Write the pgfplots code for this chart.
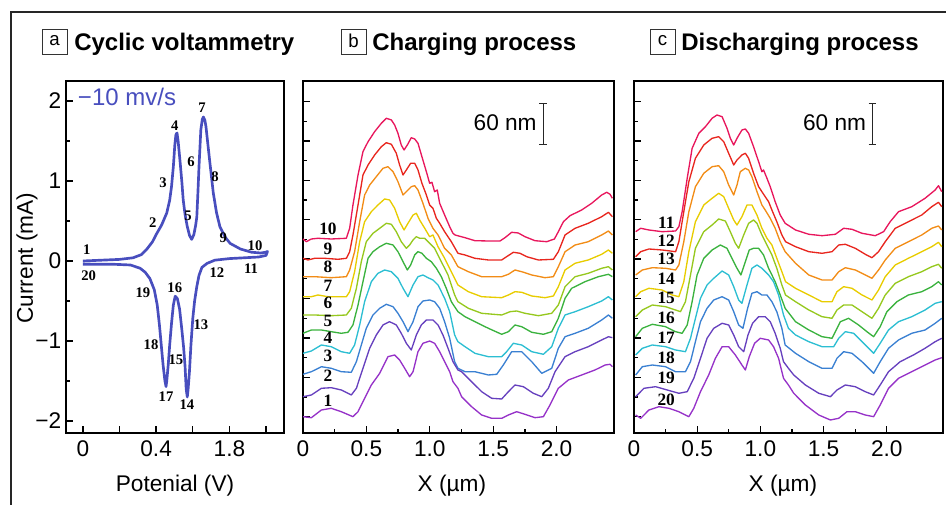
\documentclass[border=0pt]{standalone}
\usepackage{fontspec}
\setmainfont{Liberation Sans}
\newfontfamily\tnr{Liberation Serif}
\usepackage{pgfplots}
\pgfplotsset{compat=1.18}
\definecolor{c10}{RGB}{232,22,92}
\definecolor{c9}{RGB}{232,38,30}
\definecolor{c8}{RGB}{242,140,22}
\definecolor{c7}{RGB}{232,204,0}
\definecolor{c6}{RGB}{150,200,30}
\definecolor{c5}{RGB}{58,178,62}
\definecolor{c4}{RGB}{44,190,210}
\definecolor{c3}{RGB}{58,128,210}
\definecolor{c2}{RGB}{102,64,190}
\definecolor{c1}{RGB}{150,50,200}
\definecolor{cvblue}{RGB}{72,78,190}
\newcommand\lbl{\fontsize{17}{20}\selectfont}
\newcommand\numb{\tnr\bfseries\fontsize{13}{14}\selectfont}
\newcommand\numa{\tnr\bfseries\fontsize{11}{12}\selectfont}
\pgfplotsset{
  myax/.style={scale only axis, clip=false, anchor=south west,
    axis line style={line width=1.5pt},
    every tick/.style={black,line width=1pt},
    major tick length=5pt, minor tick length=2.7pt,
    tick align=inside, tick pos=left,
    tick label style={font=\lbl},
    label style={font=\lbl},
    xticklabel style={yshift=-2.5pt},
    height=264pt},
  prof/.style={line width=1pt, line join=round},
}
\begin{document}
\begin{tikzpicture}[x=0.75pt,y=0.75pt]
% outer frame
\draw[line width=0.8pt, black!85] (11,-5) -- (11,493) -- (960,493);
% titles
\draw[line width=0.7pt, black!80] (42,451) rectangle (67,476);
\node[inner sep=0, font=\fontsize{14}{16}\selectfont] at (54.5,464) {a};
\node[anchor=base west, inner sep=0, font=\fontsize{18}{20}\selectfont\bfseries] at (74,454) {Cyclic voltammetry};
\draw[line width=0.7pt, black!80] (341,451) rectangle (366,476);
\node[inner sep=0, font=\fontsize{14}{16}\selectfont] at (353.5,464) {b};
\node[anchor=base west, inner sep=0, font=\fontsize{18}{20}\selectfont\bfseries] at (372,454) {Charging process};
\draw[line width=0.7pt, black!80] (650,451) rectangle (675,476);
\node[inner sep=0, font=\fontsize{14}{16}\selectfont] at (662.5,464) {c};
\node[anchor=base west, inner sep=0, font=\fontsize{18}{20}\selectfont\bfseries] at (681,454) {Discharging process};

% ---------------- panel a
\begin{axis}[myax, at={(49.5pt,54pt)}, width=163.5pt,
  xmin=-0.46, xmax=5.49, ymin=-2.15, ymax=2.25,
  xtick={0,1,2,3,4,5}, xticklabels={0,,0.4,,1.8,},
  ytick={-2,-1,0,1,2}, yticklabels={−2,−1,0,1,2},
  minor y tick num=1,
  xlabel={Potenial (V)}, ylabel={Current (mA)},
  xlabel style={at={(axis description cs:0.5,-0.1506)},anchor=center},
  ylabel style={at={(axis description cs:-0.179,0.497)},anchor=center}]
\addplot[cvblue, line width=2pt, line join=round] coordinates {
(0,0) (0.5,0.01) (1.0,0.02) (1.37,0.04) (1.6,0.08) (1.75,0.15) (1.9,0.24) (2.0,0.33) (2.15,0.45) (2.29,0.6) (2.37,0.76) (2.42,0.93) (2.47,1.18) (2.51,1.45) (2.54,1.58) (2.57,1.6) (2.6,1.5) (2.65,1.26) (2.7,1.0) (2.74,0.76) (2.79,0.58) (2.85,0.43) (2.91,0.32) (2.97,0.27) (3.03,0.33) (3.08,0.45) (3.11,0.55) (3.14,0.85) (3.17,1.18) (3.22,1.64) (3.26,1.77) (3.29,1.8) (3.33,1.76) (3.36,1.68) (3.45,1.3) (3.56,0.85) (3.65,0.6) (3.74,0.43) (3.88,0.3) (4.02,0.22) (4.3,0.15) (4.6,0.11) (4.85,0.1) (5.0,0.11) (5.04,0.12)
(5.0,0.07) (4.8,0.05) (4.4,0.04) (4.0,0.03) (3.6,0.01) (3.39,-0.03) (3.25,-0.08) (3.17,-0.18) (3.11,-0.32) (3.05,-0.5) (3.0,-0.72) (2.95,-1.05) (2.91,-1.38) (2.87,-1.62) (2.85,-1.7) (2.82,-1.6) (2.79,-1.32) (2.75,-1.08) (2.7,-0.85) (2.64,-0.6) (2.58,-0.47) (2.52,-0.44) (2.47,-0.55) (2.42,-0.78) (2.37,-1.05) (2.33,-1.3) (2.29,-1.5) (2.27,-1.57) (2.24,-1.5) (2.19,-1.3) (2.14,-1.05) (2.09,-0.8) (2.03,-0.55) (1.95,-0.36) (1.83,-0.22) (1.7,-0.14) (1.56,-0.09) (1.3,-0.05) (0.8,-0.04) (0.3,-0.04) (0,-0.04)
};
\node[anchor=west, inner sep=0, text=cvblue, font=\fontsize{18}{20}\selectfont] at (axis cs:-0.14,2.05) {−10 mv/s};
\node[font=\numa] at (axis cs:0.11,0.14) {1};
\node[font=\numa] at (axis cs:0.16,-0.18) {20};
\node[font=\numa] at (axis cs:1.91,0.48) {2};
\node[font=\numa] at (axis cs:2.19,0.98) {3};
\node[font=\numa] at (axis cs:2.51,1.69) {4};
\node[font=\numa] at (axis cs:2.87,0.56) {5};
\node[font=\numa] at (axis cs:2.95,1.24) {6};
\node[font=\numa] at (axis cs:3.25,1.91) {7};
\node[font=\numa] at (axis cs:3.61,1.05) {8};
\node[font=\numa] at (axis cs:3.83,0.29) {9};
\node[font=\numa] at (axis cs:4.7,0.19) {10};
\node[font=\numa] at (axis cs:4.59,-0.09) {11};
\node[font=\numa] at (axis cs:3.66,-0.15) {12};
\node[font=\numa] at (axis cs:3.22,-0.8) {13};
\node[font=\numa] at (axis cs:2.84,-1.8) {14};
\node[font=\numa] at (axis cs:2.54,-1.23) {15};
\node[font=\numa] at (axis cs:2.51,-0.34) {16};
\node[font=\numa] at (axis cs:2.27,-1.7) {17};
\node[font=\numa] at (axis cs:1.86,-1.05) {18};
\node[font=\numa] at (axis cs:1.64,-0.4) {19};
\end{axis}

% ---------------- panel b
\begin{axis}[myax, at={(227.25pt,54pt)}, width=233.25pt,
  xmin=0, xmax=2.453, ymin=0, ymax=352,
  xtick={0,0.5,1,1.5,2}, xticklabels={0,0.5,1.0,1.5,2.0}, minor x tick num=1,
  ytick={16.3,55.7,95.1,134.5,173.9,213.3,252.7,292.1,331.5},
  minor ytick={36,75.4,114.8,154.2,193.6,233,272.4,311.8},
  yticklabels={},
  xlabel={X (µm)},
  xlabel style={at={(axis description cs:0.479,-0.1506)},anchor=center}]
\addplot[c10, prof] coordinates {(0,194) (0.026,191.3) (0.066,194) (0.118,194.7) (0.223,194) (0.342,194.7) (0.368,204.7) (0.394,228) (0.434,258) (0.473,281.3) (0.513,291.3) (0.565,301.3) (0.618,309.7) (0.657,314.7) (0.697,313) (0.723,308) (0.749,299.7) (0.775,288) (0.797,283) (0.823,288) (0.854,295.3) (0.881,294) (0.907,289.7) (0.938,276.3) (0.973,261.3) (0.999,249.7) (1.017,250.7) (1.038,241.3) (1.059,243) (1.078,229.7) (1.117,218) (1.157,206.3) (1.183,199.7) (1.199,198) (1.278,195.3) (1.356,192.3) (1.462,192) (1.554,192) (1.593,195.3) (1.646,200.7) (1.698,200) (1.751,196.3) (1.830,192.3) (1.922,191.3) (1.983,194) (2.014,201.3) (2.054,211.3) (2.106,217.3) (2.198,223) (2.277,229.7) (2.356,238) (2.396,240.7) (2.422,238.7) (2.440,234.7)};
\addplot[c9, prof] coordinates {(0,174.7) (0.039,173) (0.092,174.7) (0.171,174.7) (0.276,173.7) (0.342,174.7) (0.368,181.3) (0.394,198) (0.434,228) (0.473,258) (0.513,268) (0.565,278) (0.618,286.3) (0.657,290.3) (0.697,288.7) (0.736,279.7) (0.762,268) (0.789,258) (0.815,263) (0.849,269.7) (0.881,269.7) (0.907,263) (0.938,249.7) (0.973,238) (0.999,228) (1.025,224.7) (1.052,214.7) (1.078,209.7) (1.117,201.3) (1.170,191.3) (1.222,179.7) (1.278,178) (1.356,174.7) (1.462,173) (1.567,173) (1.606,176.3) (1.659,180.7) (1.712,179.7) (1.764,176.3) (1.857,173) (1.975,173.7) (2.014,181.3) (2.067,198) (2.146,204.7) (2.25,209.7) (2.356,216.3) (2.409,220.7) (2.440,216.3)};
\addplot[c8, prof] coordinates {(0,156.3) (0.092,156.3) (0.223,155.3) (0.342,156.3) (0.368,163) (0.407,181.3) (0.447,211.3) (0.486,238) (0.526,248) (0.578,256.3) (0.631,264.7) (0.670,266.3) (0.710,261.3) (0.749,251.3) (0.789,238) (0.815,241.3) (0.854,246.3) (0.881,247.3) (0.907,243) (0.946,229.7) (0.986,214.7) (1.025,204.7) (1.065,198) (1.117,184.7) (1.170,178) (1.222,166.3) (1.304,161.3) (1.409,156.3) (1.567,156.3) (1.620,158.7) (1.672,163) (1.725,161.3) (1.804,158) (1.909,155.3) (1.975,156.3) (2.014,166.3) (2.067,181.3) (2.146,188) (2.25,191.3) (2.356,198) (2.409,202) (2.440,198)};
\addplot[c7, prof] coordinates {(0,136.3) (0.066,136.3) (0.118,138) (0.197,136.3) (0.342,136.3) (0.368,141.3) (0.407,161.3) (0.447,191.3) (0.486,211.3) (0.539,221.3) (0.591,228) (0.644,234) (0.683,233) (0.723,224.7) (0.762,211.3) (0.797,203) (0.828,209.7) (0.868,218) (0.894,219.7) (0.920,213) (0.960,204.7) (0.999,196.3) (1.025,198) (1.065,186.3) (1.117,174.7) (1.170,161.3) (1.222,148) (1.304,141.3) (1.409,136.3) (1.567,135.3) (1.620,138) (1.672,141.3) (1.725,140.7) (1.804,137) (1.909,135.3) (1.975,137) (2.014,146.3) (2.067,163) (2.146,169.7) (2.25,173) (2.356,178.7) (2.409,183) (2.440,179.7)};
\addplot[c6, prof] coordinates {(0,118) (0.092,118) (0.223,117.3) (0.342,118) (0.381,124.7) (0.421,144.7) (0.460,171.3) (0.499,191.3) (0.552,199.7) (0.605,204.7) (0.657,209.7) (0.697,208.7) (0.736,201.3) (0.775,191.3) (0.815,184.7) (0.841,188) (0.868,193) (0.894,196.3) (0.920,194.7) (0.960,194.7) (0.999,189.7) (1.038,184.7) (1.091,171.3) (1.144,158) (1.196,138) (1.222,131.3) (1.304,124.7) (1.409,119.7) (1.567,118) (1.633,121.3) (1.685,122) (1.751,119.7) (1.857,117.3) (1.962,119.7) (2.014,128) (2.067,146.3) (2.146,156.3) (2.25,159.7) (2.356,164.7) (2.409,166.3) (2.440,163)};
\addplot[c5, prof] coordinates {(0,99.7) (0.066,103) (0.145,103) (0.223,101.3) (0.302,99.7) (0.355,100.7) (0.394,108) (0.434,128) (0.473,151.3) (0.513,174.7) (0.552,181.3) (0.605,186.3) (0.657,189.7) (0.710,188) (0.749,181.3) (0.789,171.3) (0.823,163) (0.849,168) (0.881,178) (0.907,181.3) (0.938,179.7) (0.973,174.7) (1.012,171.3) (1.052,164.7) (1.091,156.3) (1.130,144.7) (1.170,131.3) (1.222,121.3) (1.278,116.3) (1.356,111.3) (1.462,104.7) (1.567,98.7) (1.620,101.3) (1.672,108) (1.725,106.3) (1.804,100.7) (1.896,98.7) (1.962,101.3) (2.014,114.7) (2.067,134.7) (2.119,144.7) (2.224,151.3) (2.330,156.3) (2.409,158.7) (2.440,156.3)};
\addplot[c4, prof] coordinates {(0,79.7) (0.066,82) (0.145,88) (0.223,86.3) (0.302,81.3) (0.368,79.7) (0.407,88) (0.447,108) (0.486,131.3) (0.539,151.3) (0.591,159.7) (0.644,163) (0.697,161.3) (0.749,154.7) (0.789,144.7) (0.828,136.3) (0.868,148) (0.907,156.3) (0.946,158) (0.986,155.3) (1.025,153) (1.065,148) (1.117,134.7) (1.157,121.3) (1.196,98) (1.222,91.3) (1.278,86.3) (1.356,79.7) (1.462,76.3) (1.567,76.3) (1.606,81.3) (1.659,89.7) (1.725,88) (1.804,81.3) (1.896,78.7) (1.962,86.3) (2.014,104.7) (2.067,118) (2.146,121.3) (2.25,126.3) (2.356,132) (2.409,136.3) (2.440,133)};
\addplot[c3, prof] coordinates {(0,58.7) (0.066,61.3) (0.145,66.3) (0.223,64.7) (0.302,61.3) (0.381,60.7) (0.421,71.3) (0.460,88) (0.499,104.7) (0.552,118) (0.605,124.7) (0.657,128.7) (0.710,126.3) (0.749,119.7) (0.789,111.3) (0.828,101.3) (0.868,111.3) (0.907,126.3) (0.946,132) (0.999,133) (1.038,131.3) (1.078,124.7) (1.117,111.3) (1.157,94.7) (1.196,71.3) (1.222,64.7) (1.278,61.3) (1.356,61.3) (1.462,58) (1.528,58.7) (1.580,68) (1.646,81.3) (1.725,81.3) (1.804,71.3) (1.883,59.7) (1.962,64.7) (2.014,84.7) (2.067,96.3) (2.146,99.7) (2.25,104.7) (2.356,113) (2.409,118) (2.440,114.7)};
\addplot[c2, prof] coordinates {(0,36.3) (0.066,38) (0.145,44.7) (0.223,45.3) (0.302,43) (0.381,38) (0.421,44.7) (0.473,64.7) (0.526,84.7) (0.578,98) (0.631,108) (0.683,111.3) (0.736,108) (0.775,99.7) (0.815,89.7) (0.854,83) (0.894,98) (0.933,108) (0.973,113) (1.025,113) (1.065,108) (1.104,98) (1.144,84.7) (1.183,71.3) (1.222,63) (1.251,61.3) (1.330,51.3) (1.409,41.3) (1.488,34.7) (1.567,34) (1.620,41.3) (1.672,48) (1.738,46.3) (1.817,39.7) (1.883,36.3) (1.935,44.7) (1.988,61.3) (2.067,76.3) (2.146,81.3) (2.25,86.3) (2.356,93) (2.409,96.3) (2.440,95.3)};
\addplot[c1, prof] coordinates {(0,16.3) (0.066,15.3) (0.145,23) (0.223,24.7) (0.302,21.3) (0.394,16.3) (0.434,21.3) (0.486,34.7) (0.539,48) (0.605,59.7) (0.670,76.3) (0.723,78) (0.762,73) (0.802,64.7) (0.841,56.3) (0.868,61.3) (0.907,81.3) (0.946,89.7) (0.999,92) (1.038,89.7) (1.078,81.3) (1.117,71.3) (1.157,61.3) (1.183,51.3) (1.222,44.7) (1.251,36.3) (1.330,26.3) (1.409,18) (1.488,14.7) (1.567,14.7) (1.620,18) (1.685,21.3) (1.751,18.7) (1.830,15.3) (1.896,16.3) (1.948,28) (2.014,44.7) (2.093,53) (2.198,58) (2.303,63) (2.383,68) (2.422,68.7) (2.440,66.3)};
\node[font=\numb] at (axis cs:0.197,204) {10};
\node[font=\numb] at (axis cs:0.197,184.5) {9};
\node[font=\numb] at (axis cs:0.197,166) {8};
\node[font=\numb] at (axis cs:0.197,147) {7};
\node[font=\numb] at (axis cs:0.197,130) {6};
\node[font=\numb] at (axis cs:0.197,112.5) {5};
\node[font=\numb] at (axis cs:0.197,95.5) {4};
\node[font=\numb] at (axis cs:0.197,77) {3};
\node[font=\numb] at (axis cs:0.197,57) {2};
\node[font=\numb] at (axis cs:0.197,32) {1};
\node[anchor=east, inner sep=0, font=\lbl] at (axis cs:1.845,310) {60 nm};
\draw[line width=0.9pt, black!85] (axis cs:1.895,288.7) -- (axis cs:1.895,329.7);
\draw[line width=0.9pt, black!85] (axis cs:1.865,288.7) -- (axis cs:1.925,288.7);
\draw[line width=0.9pt, black!85] (axis cs:1.865,329.7) -- (axis cs:1.925,329.7);
\end{axis}

% ---------------- panel c
\begin{axis}[myax, at={(475.5pt,54pt)}, width=231.75pt,
  xmin=0, xmax=2.445, ymin=0, ymax=352,
  xtick={0,0.5,1,1.5,2}, xticklabels={0,0.5,1.0,1.5,2.0}, minor x tick num=1,
  ytick={16.3,55.7,95.1,134.5,173.9,213.3,252.7,292.1,331.5},
  minor ytick={36,75.4,114.8,154.2,193.6,233,272.4,311.8},
  yticklabels={},
  xlabel={X (µm)},
  xlabel style={at={(axis description cs:0.482,-0.1506)},anchor=center}]
\addplot[c10, prof] coordinates {(0.013,201.3) (0.053,204.7) (0.118,203) (0.223,201.3) (0.329,202) (0.355,206.3) (0.381,221.3) (0.421,254.7) (0.460,284.7) (0.513,299.7) (0.565,306.3) (0.618,314.7) (0.657,318) (0.697,316.3) (0.736,304.7) (0.762,294.7) (0.789,288) (0.815,294.7) (0.854,303) (0.881,304) (0.907,299.7) (0.946,286.3) (0.986,271.3) (1.012,261.3) (1.025,263) (1.052,254.7) (1.078,246.3) (1.117,231.3) (1.157,218) (1.196,209.7) (1.278,203) (1.383,198.7) (1.488,197.3) (1.593,198.7) (1.659,204.7) (1.725,203.7) (1.804,199.7) (1.909,197.3) (1.975,201.3) (2.027,211.3) (2.093,221.3) (2.198,226.3) (2.303,234.7) (2.383,243) (2.409,247.3) (2.435,241.3)};
\addplot[c9, prof] coordinates {(0.013,176.3) (0.053,181.3) (0.118,184) (0.223,183) (0.329,181.3) (0.355,191.3) (0.394,221.3) (0.434,251.3) (0.486,274.7) (0.552,288) (0.618,294.7) (0.670,296.3) (0.710,291.3) (0.749,279.7) (0.789,268) (0.815,273) (0.854,278) (0.881,279.7) (0.907,274.7) (0.946,259.7) (0.986,246.3) (1.012,241.3) (1.038,236.3) (1.065,231.3) (1.091,223) (1.130,211.3) (1.170,198) (1.199,191.3) (1.278,186.3) (1.383,181.3) (1.488,179.7) (1.567,181.3) (1.620,188) (1.672,188.7) (1.751,184.7) (1.830,178.7) (1.883,175.3) (1.935,181.3) (1.988,191.3) (2.067,204.7) (2.171,211.3) (2.277,218) (2.356,226.3) (2.409,230.7) (2.435,226.3)};
\addplot[c8, prof] coordinates {(0.013,158) (0.066,163) (0.145,165.3) (0.250,164.7) (0.329,163) (0.355,168) (0.394,191.3) (0.434,221.3) (0.486,246.3) (0.552,259.7) (0.618,266.3) (0.670,267.3) (0.710,261.3) (0.749,248) (0.789,238) (0.815,248) (0.841,261.3) (0.881,264.7) (0.907,263) (0.933,256.3) (0.973,241.3) (1.012,228) (1.038,223) (1.078,214.7) (1.117,204.7) (1.157,191.3) (1.196,181.3) (1.278,169.7) (1.383,158) (1.488,153) (1.567,153) (1.620,161.3) (1.672,165.3) (1.751,163) (1.830,158) (1.883,154.7) (1.935,163) (1.988,173) (2.067,184.7) (2.171,191.3) (2.277,198) (2.356,204.7) (2.409,207) (2.435,203)};
\addplot[c7, prof] coordinates {(0.013,136.3) (0.053,141.3) (0.118,144.7) (0.223,143) (0.302,138) (0.355,136.3) (0.394,151.3) (0.434,181.3) (0.486,211.3) (0.552,228) (0.618,234.7) (0.670,239.7) (0.710,236.3) (0.749,224.7) (0.789,213) (0.815,208) (0.854,216.3) (0.894,228) (0.933,228) (0.973,218) (1.012,204.7) (1.052,194.7) (1.091,188) (1.130,174.7) (1.170,161.3) (1.199,151.3) (1.278,144.7) (1.383,138) (1.488,131.3) (1.567,131.3) (1.606,141.3) (1.659,146.3) (1.725,144.7) (1.804,138) (1.883,133) (1.935,143) (1.988,156.3) (2.067,168) (2.171,174.7) (2.277,181.3) (2.356,186.3) (2.409,190.7) (2.435,186.3)};
\addplot[c6, prof] coordinates {(0.013,116.3) (0.066,123) (0.145,128) (0.250,126.3) (0.329,123) (0.368,121.3) (0.407,131.3) (0.447,158) (0.486,184.7) (0.552,201.3) (0.618,208) (0.670,214) (0.723,212) (0.762,201.3) (0.802,189.7) (0.828,184.7) (0.868,198) (0.907,209.7) (0.946,213) (0.973,209.7) (1.012,198) (1.052,188) (1.091,178) (1.130,164.7) (1.170,148) (1.199,138) (1.278,131.3) (1.383,123) (1.488,116.3) (1.567,114.7) (1.606,123) (1.659,128) (1.725,128) (1.804,121.3) (1.883,114.7) (1.935,124.7) (1.988,138) (2.067,149.7) (2.171,156.3) (2.277,161.3) (2.356,166.3) (2.409,168.7) (2.435,164.7)};
\addplot[c5, prof] coordinates {(0.013,96.3) (0.066,104.7) (0.145,108.7) (0.250,106.3) (0.329,101.3) (0.381,99.7) (0.421,108) (0.460,131.3) (0.499,158) (0.552,174.7) (0.618,183) (0.683,188) (0.736,184.7) (0.775,174.7) (0.815,164.7) (0.846,158) (0.881,171.3) (0.912,183) (0.946,184.7) (0.986,184.7) (1.025,178) (1.065,164.7) (1.117,151.3) (1.157,138) (1.196,124.7) (1.278,111.3) (1.383,103) (1.488,96.3) (1.567,94.7) (1.593,101.3) (1.633,111.3) (1.698,114.7) (1.777,108) (1.843,101.3) (1.896,96.3) (1.948,106.3) (2.001,121.3) (2.080,131.3) (2.171,138) (2.277,141.3) (2.356,146.3) (2.409,151.3) (2.435,148)};
\addplot[c4, prof] coordinates {(0.013,78) (0.066,84.7) (0.145,88) (0.250,86.3) (0.329,83) (0.407,81.3) (0.447,94.7) (0.486,114.7) (0.526,134.7) (0.578,148) (0.631,154.7) (0.697,162) (0.749,158) (0.789,146.3) (0.828,133) (0.854,129.7) (0.894,148) (0.933,164.7) (0.973,168) (1.012,164.7) (1.065,158) (1.104,151.3) (1.144,138) (1.183,118) (1.222,104.7) (1.278,98) (1.383,91.3) (1.488,86.3) (1.580,86.3) (1.620,94.7) (1.672,101.3) (1.738,99.7) (1.817,89.7) (1.896,79.7) (1.948,89.7) (2.014,103) (2.093,111.3) (2.198,116.3) (2.303,123) (2.383,129.7) (2.435,131.3)};
\addplot[c3, prof] coordinates {(0.013,58) (0.066,66.3) (0.145,68) (0.250,66.3) (0.329,61.3) (0.407,61.3) (0.447,71.3) (0.486,91.3) (0.526,111.3) (0.578,124.7) (0.631,133) (0.697,136.3) (0.749,133) (0.789,121.3) (0.828,108) (0.862,104.7) (0.899,124.7) (0.933,139.7) (0.973,141.3) (1.012,138) (1.052,138) (1.091,131.3) (1.130,121.3) (1.170,104.7) (1.196,88) (1.278,79.7) (1.383,71.3) (1.488,64.7) (1.567,64.7) (1.606,74.7) (1.659,81.3) (1.725,79.7) (1.804,71.3) (1.896,59.7) (1.948,71.3) (2.014,84.7) (2.093,93) (2.198,99.7) (2.303,103) (2.383,109.7) (2.435,114.7)};
\addplot[c2, prof] coordinates {(0.013,36.3) (0.079,44.7) (0.171,46.3) (0.263,43) (0.355,39.7) (0.421,41.3) (0.473,54.7) (0.526,74.7) (0.578,94.7) (0.631,104.7) (0.697,109.7) (0.749,108) (0.789,98) (0.828,86.3) (0.868,81.3) (0.902,98) (0.938,109.7) (0.986,116.3) (1.038,116.3) (1.078,111.3) (1.117,99.7) (1.157,84.7) (1.183,71.3) (1.222,64.7) (1.264,58) (1.356,48) (1.462,39.7) (1.554,36.3) (1.606,43) (1.672,48) (1.751,46.3) (1.830,41.3) (1.896,38) (1.948,48) (2.014,61.3) (2.106,71.3) (2.211,78) (2.303,84.7) (2.383,91.3) (2.435,94.7)};
\addplot[c1, prof] coordinates {(0.013,18) (0.053,14.7) (0.118,23) (0.197,26.3) (0.276,24.7) (0.355,21.3) (0.434,16.3) (0.473,24.7) (0.526,41.3) (0.591,58) (0.644,74.7) (0.697,86.3) (0.749,86.3) (0.802,78) (0.854,68) (0.881,63) (0.912,76.3) (0.954,89.7) (0.999,94.7) (1.065,93) (1.104,86.3) (1.144,74.7) (1.183,54.7) (1.222,48) (1.264,39.7) (1.356,28) (1.462,18) (1.554,13) (1.620,14.7) (1.685,21.3) (1.751,21.3) (1.830,18) (1.896,16.3) (1.948,28) (2.014,44.7) (2.093,54.7) (2.198,61.3) (2.303,68) (2.383,73) (2.435,75.3)};
\node[font=\numb] at (axis cs:0.255,210.7) {11};
\node[font=\numb] at (axis cs:0.255,192.3) {12};
\node[font=\numb] at (axis cs:0.255,174) {13};
\node[font=\numb] at (axis cs:0.255,154.7) {14};
\node[font=\numb] at (axis cs:0.255,134.7) {15};
\node[font=\numb] at (axis cs:0.255,115.3) {16};
\node[font=\numb] at (axis cs:0.255,95.7) {17};
\node[font=\numb] at (axis cs:0.255,74.7) {18};
\node[font=\numb] at (axis cs:0.255,54.7) {19};
\node[font=\numb] at (axis cs:0.255,33) {20};
\node[anchor=east, inner sep=0, font=\lbl] at (axis cs:1.838,310) {60 nm};
\draw[line width=0.9pt, black!85] (axis cs:1.887,288.7) -- (axis cs:1.887,329.7);
\draw[line width=0.9pt, black!85] (axis cs:1.857,288.7) -- (axis cs:1.917,288.7);
\draw[line width=0.9pt, black!85] (axis cs:1.857,329.7) -- (axis cs:1.917,329.7);
\end{axis}
\pgfresetboundingbox
\useasboundingbox (0,0) rectangle (946,505);
\end{tikzpicture}
\end{document}
